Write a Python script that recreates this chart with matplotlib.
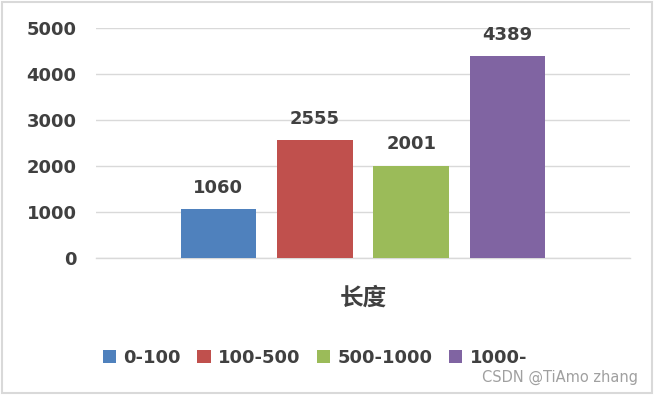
import matplotlib
matplotlib.use('Agg')
import matplotlib.pyplot as plt
from matplotlib.patches import Rectangle

plt.rcParams['font.family'] = ['DejaVu Sans', 'Noto Sans CJK SC']

# data
series = ['0-100', '100-500', '500-1000', '1000-']
counts = [1060, 2555, 2001, 4389]
category = '长度'
colors = ['#4f81bd', '#c0504d', '#9bbb59', '#8064a2']
yticks = [0, 1000, 2000, 3000, 4000, 5000]

txt = '#404040'

fig = plt.figure(figsize=(6.54, 3.95), dpi=100)
ax = fig.add_axes([0.1468, 0.3468, 0.8165, 0.5823])

width = 0.142
step = 0.1805
n = len(series)
for i, (name, val, c) in enumerate(zip(series, counts, colors)):
    x = (i - (n - 1) / 2) * step
    ax.bar(x, val, width=width, color=c, label=name, zorder=3)
    ax.annotate(str(val), (x, val), xytext=(0, 9), textcoords='offset points',
                ha='center', va='bottom', fontsize=13, fontweight='bold', color=txt)

ax.set_xlim(-0.5, 0.5)
ax.set_ylim(0, 5000)
ax.set_yticks(yticks)
ax.set_yticklabels([str(t) for t in yticks], fontsize=13, fontweight='bold', color=txt)
ax.set_xticks([])
ax.tick_params(axis='y', length=0, pad=14)
ax.grid(axis='y', color='#d9d9d9', linewidth=1, zorder=0)
ax.axhline(0, color='#d9d9d9', linewidth=1, zorder=2, clip_on=False)
for s in ax.spines.values():
    s.set_visible(False)

fig.text(363 / 654, 1 - 298 / 395, category, ha='center', va='center',
         fontsize=17, fontweight='bold', color=txt, family=['Noto Sans CJK SC'])

leg = fig.legend(loc='center', bbox_to_anchor=(315 / 654, 1 - 358 / 395), ncol=4,
                 frameon=False, handlelength=0.75, handleheight=0.75,
                 handletextpad=0.4, columnspacing=0.9,
                 prop={'size': 13, 'weight': 'bold'})
for t in leg.get_texts():
    t.set_color(txt)

fig.text(638 / 654, 1 - 377 / 395, 'CSDN @TiAmo zhang', ha='right', va='center',
         fontsize=10.5, color='#a0a0a0')

fig.patches.append(Rectangle((0.003, 0.004), 0.994, 0.992, transform=fig.transFigure,
                             fill=False, edgecolor='#d9d9d9', linewidth=1.5))

fig.savefig('out.png', dpi=100)
